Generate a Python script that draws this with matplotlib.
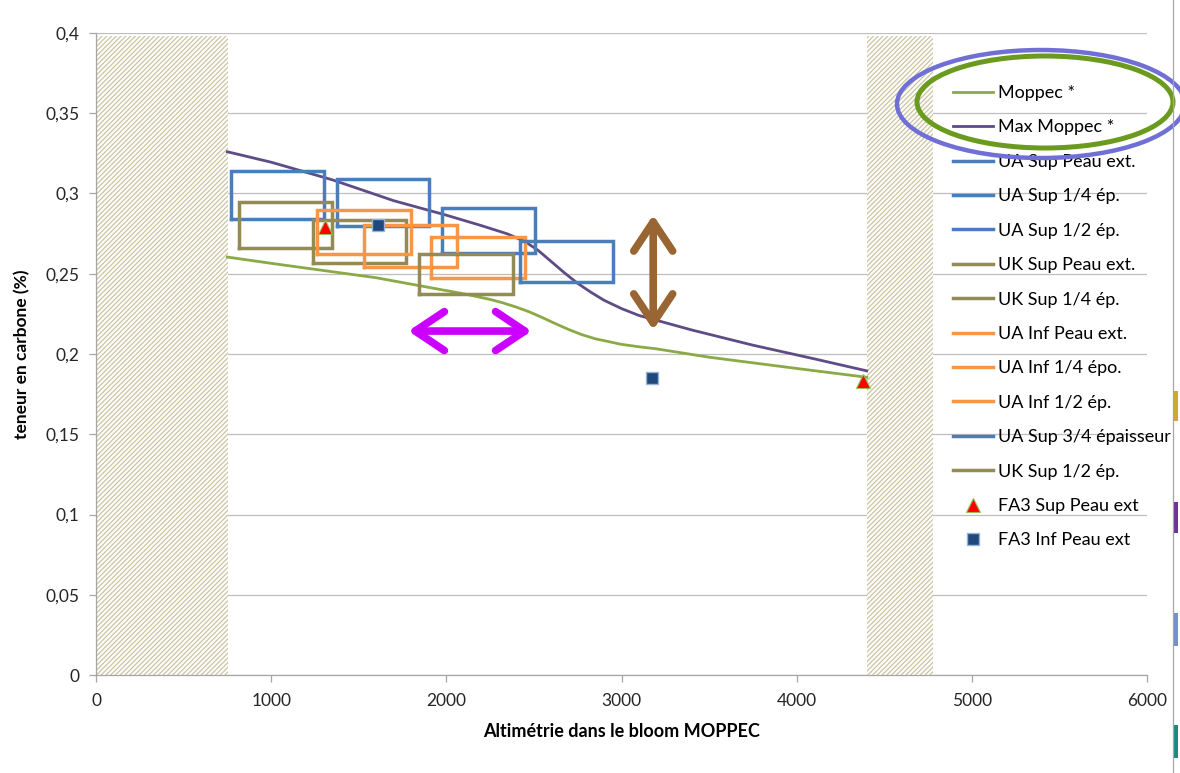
import matplotlib
matplotlib.use("Agg")
import matplotlib.pyplot as plt
from matplotlib.patches import Ellipse, Rectangle
from matplotlib.lines import Line2D
from matplotlib.ticker import FuncFormatter, MultipleLocator

plt.rcParams['font.family'] = ['Lato', 'DejaVu Sans']
plt.rcParams['hatch.linewidth'] = 0.9

# ---------- Data ----------
# hatched (excluded) zones of the bloom
HATCH_LEFT = [0, 4400]
HATCH_WIDTH = [753, 380]
HATCH_HEIGHT = [0.398, 0.398]

MOPPEC_X = [750, 1000, 1300, 1600, 2000, 2100, 2250, 2325, 2400, 2475, 2550, 2625, 2700,
            2775, 2850, 3000, 3100, 3200, 3500, 4000, 4400]
MOPPEC_Y = [0.2604, 0.2565, 0.2520, 0.2475, 0.2395, 0.2375, 0.2340, 0.2318, 0.2292, 0.2262,
            0.2226, 0.2188, 0.2152, 0.2120, 0.2095, 0.2060, 0.2045, 0.2032, 0.1980, 0.1910, 0.1855]

MAX_X = [750, 1000, 1350, 1700, 2000, 2200, 2350, 2450, 2525, 2600, 2675, 2750, 2825, 2900,
         3000, 3100, 3400, 3750, 4100, 4400]
MAX_Y = [0.3260, 0.3195, 0.3085, 0.2955, 0.2865, 0.2800, 0.2748, 0.2700, 0.2645, 0.2575,
         0.2505, 0.2440, 0.2385, 0.2335, 0.2283, 0.2240, 0.2150, 0.2055, 0.1970, 0.1895]

# boxes: label, x range, y range (series order as in the legend)
BOX_LABELS = ["UA Sup Peau ext.", "UA Sup 1/4 ép.", "UA Sup 1/2 ép.", "UK Sup Peau ext.",
              "UK Sup 1/4 ép.", "UA Inf Peau ext.", "UA Inf 1/4 épo.", "UA Inf 1/2 ép.",
              "UA Sup 3/4 épaisseur", "UK Sup 1/2 ép."]
BOX_X0 = [770, 1375, 1975, 818, 1240, 1263, 1530, 1915, 2420, 1846]
BOX_X1 = [1300, 1900, 2505, 1345, 1767, 1798, 2059, 2449, 2950, 2382]
BOX_Y0 = [0.2842, 0.2798, 0.2632, 0.2658, 0.2569, 0.2623, 0.2544, 0.2471, 0.2447, 0.2374]
BOX_Y1 = [0.3140, 0.3090, 0.2908, 0.2945, 0.2835, 0.2897, 0.2804, 0.2731, 0.2704, 0.2623]
BOX_COLORS = ["#4A7EBB", "#4A7EBB", "#4A7EBB", "#948A54", "#948A54",
              "#F79646", "#F79646", "#F79646", "#4A7EBB", "#948A54"]

FA3_SUP_X = [1307, 4378]
FA3_SUP_Y = [0.2793, 0.1830]
FA3_INF_X = [1608, 3172]
FA3_INF_Y = [0.2804, 0.1849]

# annotation arrows
H_ARROW_X = [1783, 2487]
H_ARROW_Y = 0.2143
V_ARROW_X = 3181
V_ARROW_Y = [0.2866, 0.2150]


def comma_fmt(v, pos):
    return ("%g" % round(v, 4)).replace(".", ",")


def main():
    fig = plt.figure(figsize=(11.8, 7.73), dpi=100)
    W, H = 1180.0, 773.0
    ax = fig.add_axes([96 / W, 1 - 675 / H, (1147 - 96) / W, (675 - 33) / H])

    # hatched zones
    ax.bar(HATCH_LEFT, HATCH_HEIGHT, width=HATCH_WIDTH, align="edge",
           facecolor="white", edgecolor="#CBC4A0", hatch="///////", linewidth=0, zorder=1)

    ax.plot(MOPPEC_X, MOPPEC_Y, color="#8AAA48", lw=2.0, label="Moppec *", zorder=3)
    ax.plot(MAX_X, MAX_Y, color="#5F4B85", lw=2.0, label="Max Moppec *", zorder=3)

    for lab, x0, x1, y0, y1, c in zip(BOX_LABELS, BOX_X0, BOX_X1, BOX_Y0, BOX_Y1, BOX_COLORS):
        ax.plot([x0, x1, x1, x0, x0], [y0, y0, y1, y1, y0], color=c, lw=2.5,
                solid_joinstyle="miter", label=lab, zorder=3)

    ax.plot(FA3_SUP_X, FA3_SUP_Y, ls="none", marker="^", ms=10, color="#FF0000",
            mec="#9BBB59", mew=0.8, label="FA3 Sup Peau ext", zorder=4)
    ax.plot(FA3_INF_X, FA3_INF_Y, ls="none", marker="s", ms=8.5, color="#1F497D",
            mec="#95B3D7", mew=1.0, label="FA3 Inf Peau ext", zorder=4)

    # arrows
    style = "<->,head_length=1.05,head_width=0.7"
    ax.annotate("", xy=(H_ARROW_X[1], H_ARROW_Y), xytext=(H_ARROW_X[0], H_ARROW_Y),
                arrowprops=dict(arrowstyle=style, color="#CC00FF", lw=5.5, mutation_scale=20,
                                shrinkA=0, shrinkB=0, capstyle="round", joinstyle="round"),
                zorder=5)
    ax.annotate("", xy=(V_ARROW_X, V_ARROW_Y[1]), xytext=(V_ARROW_X, V_ARROW_Y[0]),
                arrowprops=dict(arrowstyle=style, color="#996633", lw=5.5, mutation_scale=20,
                                shrinkA=0, shrinkB=0, capstyle="round", joinstyle="round"),
                zorder=5)

    # axes styling
    ax.set_xlim(0, 6000)
    ax.set_ylim(0, 0.4)
    ax.xaxis.set_major_locator(MultipleLocator(1000))
    ax.yaxis.set_major_locator(MultipleLocator(0.05))
    ax.yaxis.set_major_formatter(FuncFormatter(comma_fmt))
    ax.grid(axis="y", color="#BEBEBE", lw=0.9, zorder=0)
    ax.set_axisbelow(True)
    for s in ["top", "right"]:
        ax.spines[s].set_visible(False)
    for s in ["left", "bottom"]:
        ax.spines[s].set_color("#A6A6A6")
        ax.spines[s].set_linewidth(0.9)
    ax.tick_params(axis="both", colors="#A6A6A6", labelcolor="#262626", labelsize=12.5,
                   length=5, width=0.9, direction="out")
    ax.tick_params(axis="y", pad=7)
    ax.tick_params(axis="x", pad=8)

    ax.set_xlabel("Altimétrie dans le bloom MOPPEC", fontsize=13, fontweight="bold", labelpad=10)
    ax.set_ylabel("teneur en carbone (%)", fontsize=12.5, fontweight="bold", labelpad=11)

    ax.legend(loc="upper left", bbox_to_anchor=(953 / W, 1 - 85 / H),
              bbox_transform=fig.transFigure, frameon=False, fontsize=13,
              handlelength=2.2, handletextpad=0.3, labelspacing=1.02,
              borderpad=0, borderaxespad=0, numpoints=1)

    # circles drawn round the first two legend entries
    fig.add_artist(Ellipse((1041 / W, 1 - 104 / H), 288 / W, 108 / H, transform=fig.transFigure,
                           fill=False, edgecolor="#6F6FD6", lw=3.2, clip_on=False))
    fig.add_artist(Ellipse((1045 / W, 1 - 102 / H), 256 / W, 92 / H, transform=fig.transFigure,
                           fill=False, edgecolor="#6A9A1E", lw=3.6, clip_on=False))

    # right border of the chart area and the cut-off marks beside it
    fig.add_artist(Line2D([1173 / W, 1173 / W], [0, 1], transform=fig.transFigure,
                          color="#A6A6A6", lw=0.9))
    for top, bot, c in [(391, 421, "#D4A72C"), (502, 533, "#7030A0"),
                        (613, 646, "#7092D0"), (725, 758, "#1A8A80")]:
        fig.add_artist(Rectangle((1174 / W, 1 - bot / H), 3.5 / W, (bot - top) / H,
                                 transform=fig.transFigure, color=c, lw=0))

    fig.savefig("out.png", dpi=100)


if __name__ == "__main__":
    main()
